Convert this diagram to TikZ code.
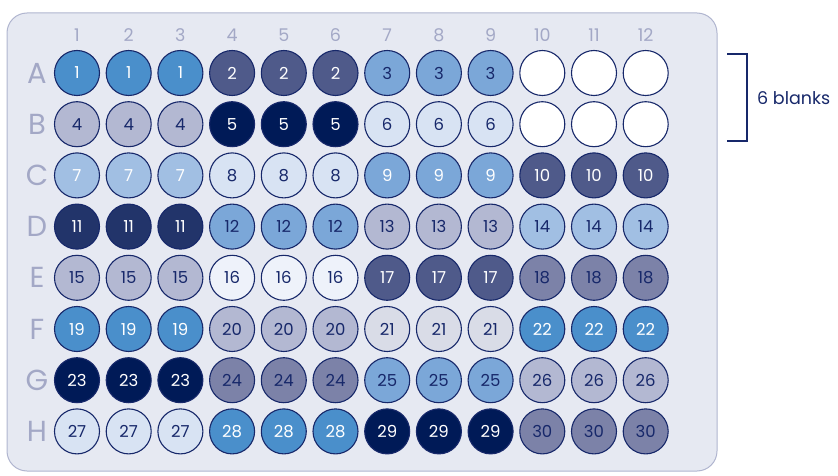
\documentclass[tikz,border=0pt]{standalone}
\usepackage{fontspec}
\setmainfont{Poppins}
\definecolor{platebg}{HTML}{E6E9F2}
\definecolor{plateedge}{HTML}{B0B5CF}
\definecolor{edge}{HTML}{17286A}
\definecolor{dark}{HTML}{17286A}
\definecolor{lab}{HTML}{A3A8C6}
\definecolor{cmid}{HTML}{4A8FCB}
\definecolor{cslate}{HTML}{4F5A8A}
\definecolor{csky}{HTML}{7BA7D8}
\definecolor{clav}{HTML}{B3B8D2}
\definecolor{cnavy}{HTML}{001A57}
\definecolor{cpale}{HTML}{D8E3F3}
\definecolor{clight}{HTML}{A1BFE3}
\definecolor{cdeep}{HTML}{22346A}
\definecolor{cwhiteblue}{HTML}{EEF2FA}
\definecolor{cgrayblue}{HTML}{7C82A8}
\definecolor{cgray}{HTML}{D9DCE7}
\begin{document}
\begin{tikzpicture}[x=1pt,y=-1pt,
  plate/.style={draw=plateedge, fill=platebg, line width=1pt, rounded corners=20pt, minimum width=710pt, minimum height=458pt, inner sep=0pt},
  well/.style={circle, draw=edge, line width=1.1pt, minimum size=45pt, inner sep=0pt, font=\fontsize{16.5}{16.5}\selectfont},
  collab/.style={text=lab, font=\fontsize{17.5}{17.5}\selectfont},
  rowlab/.style={text=lab, font=\fontsize{29}{29}\selectfont},
  bracket/.style={draw=edge, line width=1.1pt},
  s0/.style={fill=white},
  s1/.style={fill=cmid, text=white},
  s2/.style={fill=cslate, text=white},
  s3/.style={fill=csky, text=dark},
  s4/.style={fill=clav, text=dark},
  s5/.style={fill=cnavy, text=white},
  s6/.style={fill=cpale, text=dark},
  s7/.style={fill=clight, text=white},
  s8/.style={fill=cpale, text=dark},
  s9/.style={fill=csky, text=white},
  s10/.style={fill=cslate, text=white},
  s11/.style={fill=cdeep, text=white},
  s12/.style={fill=csky, text=dark},
  s13/.style={fill=clav, text=dark},
  s14/.style={fill=clight, text=dark},
  s15/.style={fill=clav, text=dark},
  s16/.style={fill=cwhiteblue, text=dark},
  s17/.style={fill=cslate, text=white},
  s18/.style={fill=cgrayblue, text=dark},
  s19/.style={fill=cmid, text=white},
  s20/.style={fill=clav, text=dark},
  s21/.style={fill=cgray, text=dark},
  s22/.style={fill=cmid, text=white},
  s23/.style={fill=cnavy, text=white},
  s24/.style={fill=cgrayblue, text=dark},
  s25/.style={fill=csky, text=dark},
  s26/.style={fill=clav, text=dark},
  s27/.style={fill=cpale, text=dark},
  s28/.style={fill=cmid, text=white},
  s29/.style={fill=cnavy, text=white},
  s30/.style={fill=cgrayblue, text=dark}]
\useasboundingbox (0,0) rectangle (838,476);
\node[plate] (plate) at (362,242) {};
\foreach \j in {1,...,12} {
  \node[collab] (c-\j) at ({77+(\j-1)*51.7},35) {\j};
}
\foreach \r/\vals [count=\i] in {
  A/{1,1,1,2,2,2,3,3,3,0,0,0},
  B/{4,4,4,5,5,5,6,6,6,0,0,0},
  C/{7,7,7,8,8,8,9,9,9,10,10,10},
  D/{11,11,11,12,12,12,13,13,13,14,14,14},
  E/{15,15,15,16,16,16,17,17,17,18,18,18},
  F/{19,19,19,20,20,20,21,21,21,22,22,22},
  G/{23,23,23,24,24,24,25,25,25,26,26,26},
  H/{27,27,27,28,28,28,29,29,29,30,30,30}} {
  \node[rowlab] (r-\r) at (37,{73+(\i-1)*51.2}) {\r};
  \foreach \v [count=\j] in \vals {
    \node[well, s\v] (w-\r-\j) at ({77+(\j-1)*51.7},{73+(\i-1)*51.2}) {\ifnum\v>0 \v\fi};
  }
}
\coordinate (b1) at (727,54);
\coordinate (b2) at (747,54);
\coordinate (b3) at (747,141);
\coordinate (b4) at (727,141);
\draw[bracket] (b1) -- (b2) -- (b3) -- (b4);
\node[anchor=west, text=dark, font=\fontsize{17.5}{17.5}\selectfont, inner sep=0pt] (blanks) at (757,98) {6 blanks};
\end{tikzpicture}
\end{document}
